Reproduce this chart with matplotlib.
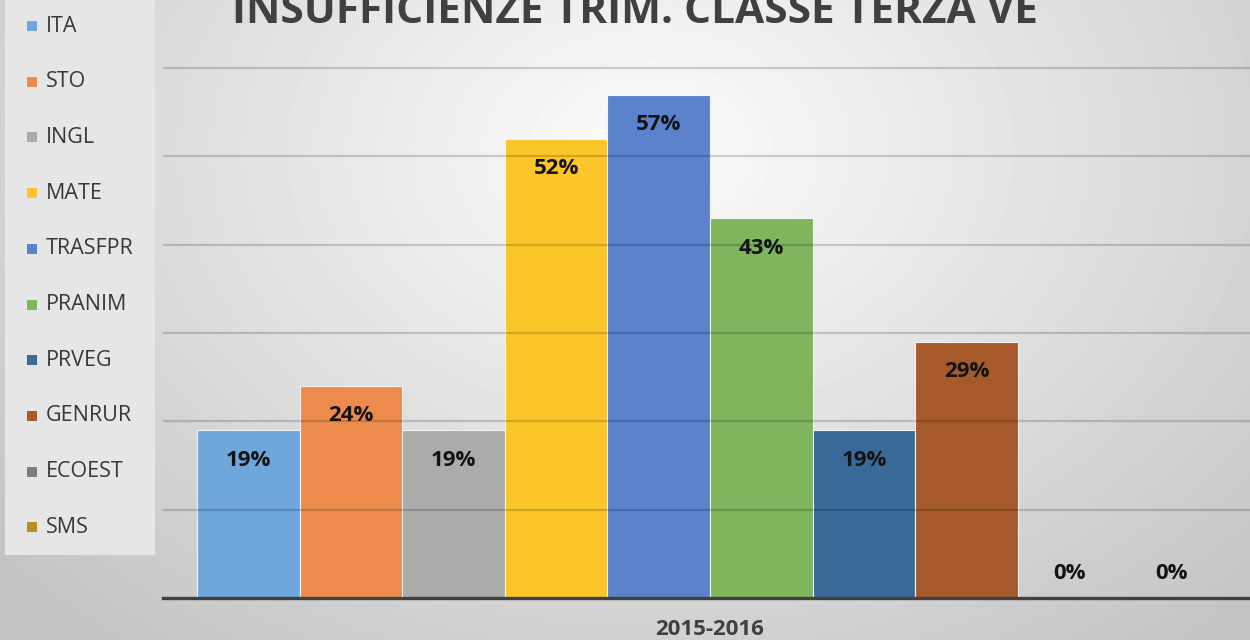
import matplotlib.pyplot as plt
import numpy as np
from matplotlib.patches import Rectangle

subjects = ["ITA", "STO", "INGL", "MATE", "TRASFPR", "PRANIM", "PRVEG", "GENRUR", "ECOEST", "SMS"]
values = [0.19, 0.24, 0.19, 0.52, 0.57, 0.43, 0.19, 0.29, 0.0, 0.0]
colors = ["#6fa6db", "#ed8b4c", "#ababab", "#fcc52a", "#5b83cc",
          "#7fb55d", "#3a6b98", "#a65a2b", "#7d7d7d", "#b38f25"]
category = "2015-2016"
title = "INSUFFICIENZE TRIM. CLASSE TERZA VE"

W, H = 1250, 640
fig = plt.figure(figsize=(W / 100, H / 100), dpi=100)

# soft radial background
bg = fig.add_axes([0, 0, 1, 1], zorder=-10)
yy, xx = np.mgrid[0:H, 0:W]
r = np.sqrt(((xx - 650) / 760.0) ** 2 + ((yy - 150) / 560.0) ** 2)
shade = np.clip(252 - 50 * r, 196, 252) / 255.0
bg.imshow(shade, cmap="gray", vmin=0, vmax=1, aspect="auto", interpolation="bilinear")
bg.axis("off")

# main plot area (runs off the right edge like the original)
step = 88.33
ymax = 0.62
ax = fig.add_axes([163 / W, (H - 598) / H, 1094 / W, ymax * 10 * step / H])
ax.patch.set_alpha(0)

x = np.arange(len(values))
ax.bar(x, values, width=1.0, color=colors, edgecolor="#f4f4f4", linewidth=0.8, zorder=2)
ax.set_xlim(-0.5 - 34 / 102.6, len(values) - 0.5 + 34 / 102.6)
ax.set_ylim(0, ymax)

for yv in np.arange(0.1, 0.61, 0.1):
    ax.axhline(yv, color="black", alpha=0.17, linewidth=1.6, zorder=3)
ax.axhline(0, color="#404040", linewidth=2.4, zorder=4, clip_on=False)

for xi, v in zip(x, values):
    off = -21.5 if v > 0 else 17.5
    ax.annotate(f"{v * 100:.0f}%", (xi, v), xytext=(0, off), textcoords="offset points",
                ha="center", va="center", fontsize=16, fontweight="bold",
                family="Open Sans", color="#141414", zorder=5)

ax.set_xticks([(len(values) - 1) / 2])
ax.set_xticklabels([category], fontsize=16, fontweight="bold", family="Open Sans", color="#404040")
ax.tick_params(axis="x", length=0, pad=15)
ax.set_yticks([])
for s in ax.spines.values():
    s.set_visible(False)

# title, cut off at the top as in the reference
fig.text(635 / W, 1 - 23 / H, title, ha="center", va="baseline", fontsize=30.5,
         fontweight="bold", family="Open Sans", color="#404040")

# legend panel
fig.patches.append(Rectangle((5 / W, 1 - 555 / H), 150 / W, 555 / H, transform=fig.transFigure,
                             facecolor="#e6e6e6", edgecolor="none", zorder=1))
for i, (name, c) in enumerate(zip(subjects, colors)):
    cy = 26 + i * 55.7
    fig.patches.append(Rectangle((27 / W, 1 - (cy + 5) / H), 10 / W, 10 / H,
                                 transform=fig.transFigure, facecolor=c, edgecolor="none", zorder=2))
    fig.text(46 / W, 1 - cy / H, name, ha="left", va="center", fontsize=15.5,
             family="Open Sans", color="#383838", zorder=3)

fig.savefig("out.png", dpi=100)
